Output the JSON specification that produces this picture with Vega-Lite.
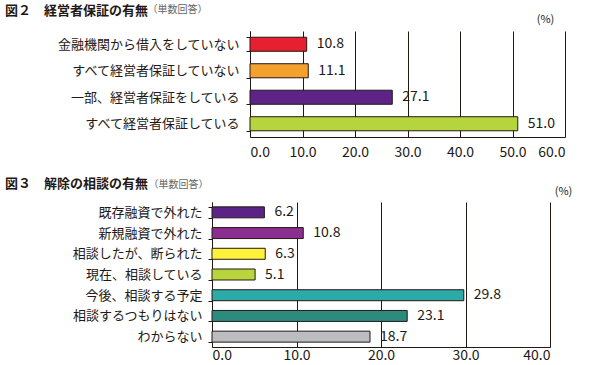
{
  "$schema": "https://vega.github.io/schema/vega-lite/v6.json",
  "padding": {"left": 5, "top": 4, "right": 0, "bottom": 0},
  "background": "white",
  "config": {"font": "Noto Sans CJK JP", "view": {"stroke": null}},
  "datasets": {
    "fig2": [
      {"item": "金融機関から借入をしていない", "pct": 10.8},
      {"item": "すべて経営者保証していない", "pct": 11.1},
      {"item": "一部、経営者保証をしている", "pct": 27.1},
      {"item": "すべて経営者保証している", "pct": 51.0}
    ],
    "fig3": [
      {"item": "既存融資で外れた", "pct": 6.2},
      {"item": "新規融資で外れた", "pct": 10.8},
      {"item": "相談したが、断られた", "pct": 6.3},
      {"item": "現在、相談している", "pct": 5.1},
      {"item": "今後、相談する予定", "pct": 29.8},
      {"item": "相談するつもりはない", "pct": 23.1},
      {"item": "わからない", "pct": 18.7}
    ]
  },
  "spacing": 19,
  "resolve": {"scale": {"color": "independent", "x": "independent", "y": "independent"}},
  "vconcat": [
    {
      "width": 353,
      "height": 106,
      "data": {"name": "fig2"},
      "title": {"text": "図２　経営者保証の有無", "anchor": "start", "frame": "group", "dx": -207, "fontSize": 13, "fontWeight": "bold", "color": "#231815", "offset": -14},
      "encoding": {
        "y": {
          "field": "item", "type": "nominal", "sort": null,
          "scale": {"paddingInner": 0.47, "paddingOuter": 0.235},
          "axis": {"offset": -38, "title": "（単数回答）", "titleAngle": 0, "titleX": -103, "titleY": -22, "titleAlign": "left", "titleBaseline": "middle", "titleFontSize": 10, "titleFontWeight": "normal", "titleColor": "#666666", "labelFontSize": 13, "labelColor": "#231815", "labelPadding": 7, "labelLimit": 400, "tickSize": 4, "tickColor": "#231815", "domainColor": "#231815", "tickBand": "extent", "grid": false}
        },
        "x": {
          "field": "pct", "type": "quantitative",
          "scale": {"domain": [0, 60], "nice": false, "range": [38, 353]},
          "axis": {"title": "(%)", "titleX": 333, "titleY": -118, "titleAlign": "center", "titleBaseline": "middle", "titleFontSize": 11, "titleFontWeight": "normal", "titleColor": "#231815", "values": [0, 10, 20, 30, 40, 50, 60], "format": ".1f", "grid": true, "gridColor": "#231815", "gridOpacity": 1, "ticks": false, "tickSize": 0, "labelPadding": 8, "labelFontSize": 14, "labelColor": "#231815", "domainColor": "#231815"}
        }
      },
      "layer": [
        {
          "mark": {"type": "bar", "stroke": "#231815", "strokeWidth": 1},
          "encoding": {
            "color": {"field": "item", "type": "nominal", "legend": null,
              "scale": {"domain": ["金融機関から借入をしていない", "すべて経営者保証していない", "一部、経営者保証をしている", "すべて経営者保証している"], "range": ["#E71F30", "#F4A22D", "#5E2387", "#B6D43C"]}}
          }
        },
        {
          "mark": {"type": "text", "align": "left", "baseline": "middle", "dx": 10, "fontSize": 14, "color": "#231815"},
          "encoding": {"text": {"field": "pct", "type": "quantitative", "format": ".1f"}}
        }
      ]
    },
    {
      "width": 338,
      "height": 145,
      "data": {"name": "fig3"},
      "title": {"text": "図３　解除の相談の有無", "anchor": "start", "frame": "group", "dx": -207, "fontSize": 13, "fontWeight": "bold", "color": "#231815", "offset": -12},
      "encoding": {
        "y": {
          "field": "item", "type": "nominal", "sort": null,
          "scale": {"paddingInner": 0.47, "paddingOuter": 0.235},
          "axis": {"title": "（単数回答）", "titleAngle": 0, "titleX": -64, "titleY": -18, "titleAlign": "left", "titleBaseline": "middle", "titleFontSize": 10, "titleFontWeight": "normal", "titleColor": "#666666", "labelFontSize": 13, "labelColor": "#231815", "labelPadding": 6, "labelLimit": 400, "tickSize": 4, "tickColor": "#231815", "domainColor": "#231815", "tickBand": "extent", "grid": false}
        },
        "x": {
          "field": "pct", "type": "quantitative",
          "scale": {"domain": [0, 40], "nice": false},
          "axis": {"title": "(%)", "titleX": 351, "titleY": -156, "titleAlign": "center", "titleBaseline": "middle", "titleFontSize": 11, "titleFontWeight": "normal", "titleColor": "#231815", "values": [0, 10, 20, 30, 40], "format": ".1f", "grid": true, "gridColor": "#231815", "gridOpacity": 1, "ticks": false, "tickSize": 0, "labelPadding": 1, "labelFontSize": 14, "labelColor": "#231815", "domainColor": "#231815"}
        }
      },
      "layer": [
        {
          "mark": {"type": "bar", "stroke": "#231815", "strokeWidth": 1},
          "encoding": {
            "color": {"field": "item", "type": "nominal", "legend": null,
              "scale": {"domain": ["既存融資で外れた", "新規融資で外れた", "相談したが、断られた", "現在、相談している", "今後、相談する予定", "相談するつもりはない", "わからない"], "range": ["#5C2387", "#8C2E8F", "#FFF23A", "#B8D53D", "#2BAAA8", "#2D8B7E", "#BCBDC0"]}}
          }
        },
        {
          "mark": {"type": "text", "align": "left", "baseline": "middle", "dx": 10, "fontSize": 14, "color": "#231815"},
          "encoding": {"text": {"field": "pct", "type": "quantitative", "format": ".1f"}}
        }
      ]
    }
  ]
}
